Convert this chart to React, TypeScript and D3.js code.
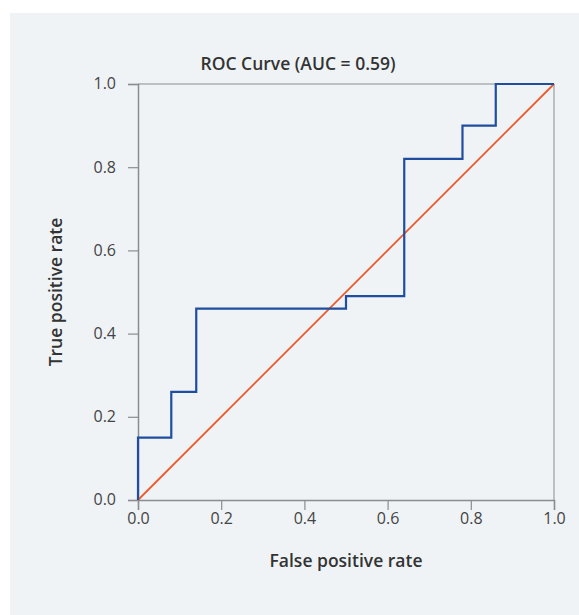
import React, { useRef, useEffect } from 'react'
import * as d3 from 'd3'

// ROC step curve points (false positive rate, true positive rate)
const fpr = [0, 0, 0.08, 0.08, 0.14, 0.14, 0.5, 0.5, 0.64, 0.64, 0.78, 0.78, 0.86, 0.86, 1.0]
const tpr = [0, 0.15, 0.15, 0.26, 0.26, 0.46, 0.46, 0.49, 0.49, 0.82, 0.82, 0.9, 0.9, 1.0, 1.0]
const diagonal = [0, 1]
const ticks = [0, 0.2, 0.4, 0.6, 0.8, 1.0]
const title = 'ROC Curve (AUC = 0.59)'

export default function App() {
    const visEl = useRef<SVGSVGElement>(null)
    const width = 579
    const height = 615

    useEffect(() => {
        const svg = d3.select(visEl.current)
        svg.selectAll('*').remove()
        const font = "'Open Sans', 'Noto Sans', sans-serif"
        const margin = { top: 84, right: 25, bottom: 115, left: 138 }
        const innerWidth = width - margin.left - margin.right
        const innerHeight = height - margin.top - margin.bottom

        svg.append('rect')
            .attr('x', 10).attr('y', 13)
            .attr('width', width - 10).attr('height', height - 13)
            .attr('fill', '#eff3f6')

        const xScale = d3.scaleLinear().domain([0, 1]).range([0, innerWidth])
        const yScale = d3.scaleLinear().domain([0, 1]).range([innerHeight, 0])

        const g = svg.append('g')
            .attr('transform', `translate(${margin.left},${margin.top})`)

        // frame top/right
        g.append('path')
            .attr('d', `M0,0H${innerWidth}V${innerHeight}`)
            .attr('fill', 'none')
            .attr('stroke', '#8a8d90')
            .attr('stroke-width', 1)

        const xAxis = d3.axisBottom(xScale).tickValues(ticks).tickFormat(d3.format('.1f')).tickSize(10).tickPadding(3)
        const yAxis = d3.axisLeft(yScale).tickValues(ticks).tickFormat(d3.format('.1f')).tickSize(10).tickPadding(12)

        const xAxisG = g.append('g').attr('transform', `translate(0,${innerHeight})`).call(xAxis)
        const yAxisG = g.append('g').call(yAxis)
        ;[xAxisG, yAxisG].forEach(ax => {
            ax.attr('font-size', null).attr('font-family', null)
            ax.select('.domain').attr('stroke', '#8a8d90').attr('stroke-width', 1.5)
            ax.selectAll('.tick line').attr('stroke', '#8a8d90').attr('stroke-width', 1.2)
            ax.selectAll('.tick text')
                .attr('fill', '#444')
                .style('font-family', font)
                .style('font-size', '16px')
        })
        yAxisG.selectAll('.tick text').attr('dy', '0.3em')

        // diagonal
        const line = d3.line<number>().x(d => xScale(d)).y(d => yScale(d))
        g.append('path')
            .attr('d', line(diagonal))
            .attr('fill', 'none')
            .attr('stroke', '#ee5a2a')
            .attr('stroke-width', 1.8)

        // ROC curve
        const rocLine = d3.line<number>().x(i => xScale(fpr[i])).y(i => yScale(tpr[i]))
        g.append('path')
            .attr('d', rocLine(d3.range(fpr.length)))
            .attr('fill', 'none')
            .attr('stroke', '#1f4ea0')
            .attr('stroke-width', 2.2)

        const label = (x: number, y: number, text: string, rotate = false) => {
            svg.append('text')
                .attr('transform', rotate ? `translate(${x},${y}) rotate(-90)` : `translate(${x},${y})`)
                .attr('text-anchor', 'middle')
                .attr('fill', '#333')
                .style('font-family', font)
                .style('font-size', '17.5px')
                .style('font-weight', 600)
                .text(text)
        }
        label(298, 70, title)
        label(margin.left + innerWidth / 2, 567, 'False positive rate')
        label(62, margin.top + innerHeight / 2, 'True positive rate', true)
    }, [])

    return (
        <svg ref={visEl} width={width} height={height}
            style={{ position: 'absolute', left: 0, top: 0, background: '#fff' }} />
    )
}
